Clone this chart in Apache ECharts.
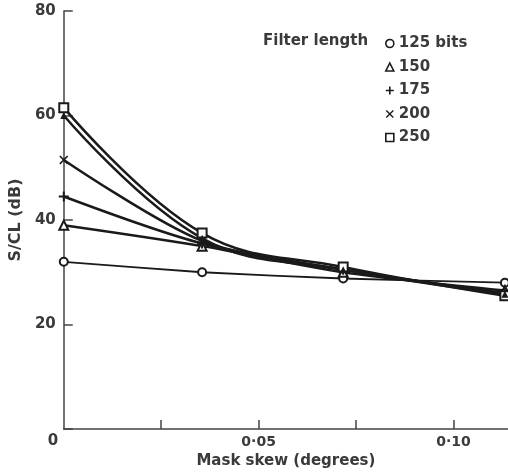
<!DOCTYPE html>
<html>
<head>
<meta charset="utf-8">
<script src="https://cdn.jsdelivr.net/npm/echarts@6/dist/echarts.min.js"></script>
<style>
html,body{margin:0;padding:0;background:#fff;}
#main{width:508px;height:475px;}
</style>
</head>
<body>
<div id="main"></div>
<script>
// ---- data ----
var maskSkew = [0, 0.0355, 0.0717, 0.1132];
var bits125 = [32, 30, 28.8, 28];
var bits150 = [39, 35, 30, 26.5];
var bits175 = [44.5, 35.5, 30.5, 26];
var bits200 = [51.5, 36, 30.5, 26];
var bits250 = [61.5, 37.5, 31, 25.5];
var unlabelledTop = [60, 36.5, 30.5, 25.8];
var seriesNames = ['125 bits', '150', '175', '200', '250'];
var xTicks = [0.025, 0.05, 0.075, 0.1];
var xTickLabels = {'0.05': '0·05', '0.1': '0·10'};
var yTickLabels = [20, 40, 60, 80];

var INK = '#1a1a1a';
var TXT = '#3a3a3a';
var FONT = 'DejaVu Sans';
var plusPath = 'path://M4,0H6V4H10V6H6V10H4V6H0V4H4Z';
var crossPath = 'path://M1.2,0L5,3.8L8.8,0L10,1.2L6.2,5L10,8.8L8.8,10L5,6.2L1.2,10L0,8.8L3.8,5L0,1.2Z';

function pts(arr){ return maskSkew.map(function(x,i){ return [x, arr[i]]; }); }

function mkSeries(name, arr, symbol, size, width, smooth, empty){
  return {
    name: name, type: 'line', data: pts(arr), smooth: smooth,
    symbol: symbol, symbolSize: size, showSymbol: true,
    lineStyle: {color: INK, width: width},
    itemStyle: empty ? {color: INK, borderColor: INK, borderWidth: 1.6} : {color: INK, borderWidth: 0},
    emphasis: {disabled: true}, z: 3
  };
}

function xLabel(v){
  for (var k in xTickLabels){ if (Math.abs(v - parseFloat(k)) < 1e-9) return xTickLabels[k]; }
  return '';
}

var chart = echarts.init(document.getElementById('main'), null, {renderer: 'canvas'});
var option = {
  animation: false,
  backgroundColor: '#fff',
  grid: {left: 61, right: 0, top: 11, bottom: 46, containLabel: false},
  xAxis: {
    type: 'value', min: 0, max: 0.114, interval: 0.025,
    axisLine: {show: true, lineStyle: {color: '#444', width: 1.5}},
    axisTick: {show: true, inside: true, length: 9, customValues: xTicks, lineStyle: {color: '#444', width: 1.5}},
    splitLine: {show: false},
    axisLabel: {
      margin: 6, color: TXT, fontFamily: FONT, fontWeight: 'bold', fontSize: 14,
      customValues: xTicks, formatter: xLabel
    },
    name: 'Mask skew (degrees)', nameLocation: 'middle', nameGap: 25,
    nameTextStyle: {color: TXT, fontFamily: FONT, fontWeight: 'bold', fontSize: 15}
  },
  yAxis: {
    type: 'value', min: 0, max: 80, interval: 20,
    axisLine: {show: true, lineStyle: {color: '#444', width: 1.5}},
    axisTick: {show: true, inside: true, length: 9, lineStyle: {color: '#444', width: 1.5}},
    splitLine: {show: false},
    axisLabel: {
      margin: 8, color: TXT, fontFamily: FONT, fontWeight: 'bold', fontSize: 15,
      formatter: function(v){ return yTickLabels.indexOf(v) >= 0 ? String(v) : ''; }
    },
    name: 'S/CL (dB)', nameLocation: 'middle', nameGap: 34, nameRotate: 90,
    nameTextStyle: {color: TXT, fontFamily: FONT, fontWeight: 'bold', fontSize: 16}
  },
  legend: {
    orient: 'vertical', left: 380, top: 31, itemGap: 8.5, itemWidth: 8, itemHeight: 8,
    selectedMode: false,
    textStyle: {color: TXT, fontFamily: FONT, fontWeight: 'bold', fontSize: 15},
    data: [
      {name: seriesNames[0], icon: 'circle', itemStyle: {color: '#fff', borderColor: INK, borderWidth: 1.6}},
      {name: seriesNames[1], icon: 'triangle', itemStyle: {color: '#fff', borderColor: INK, borderWidth: 1.6}},
      {name: seriesNames[2], icon: plusPath, itemStyle: {color: INK, borderWidth: 0}},
      {name: seriesNames[3], icon: crossPath, itemStyle: {color: INK, borderWidth: 0}},
      {name: seriesNames[4], icon: 'rect', itemStyle: {color: '#fff', borderColor: INK, borderWidth: 1.6}}
    ]
  },
  series: [
    mkSeries(seriesNames[0], bits125, 'emptyCircle', 8, 1.8, 0.2, true),
    mkSeries(seriesNames[1], bits150, 'emptyTriangle', 9, 2.5, 0.3, true),
    mkSeries(seriesNames[2], bits175, plusPath, 10, 2.5, 0.3, false),
    mkSeries(seriesNames[3], bits200, crossPath, 9, 2.5, 0.3, false),
    mkSeries(seriesNames[4], bits250, 'emptyRect', 9, 2.5, 0.4, true),
    mkSeries('top (unlabelled)', unlabelledTop, 'triangle', 7, 2.5, 0.4, false)
  ]
};
chart.setOption(option);

var origin = chart.convertToPixel({gridIndex: 0}, [0, 0]);
chart.setOption({
  graphic: [
    {type: 'text', left: 263, top: 34,
     style: {text: 'Filter length', fill: TXT, font: 'bold 15px "DejaVu Sans"'}},
    {type: 'text', x: origin[0] - 16, y: origin[1] + 5,
     style: {text: '0', fill: TXT, font: 'bold 15px "DejaVu Sans"'}}
  ]
});
</script>
</body>
</html>
